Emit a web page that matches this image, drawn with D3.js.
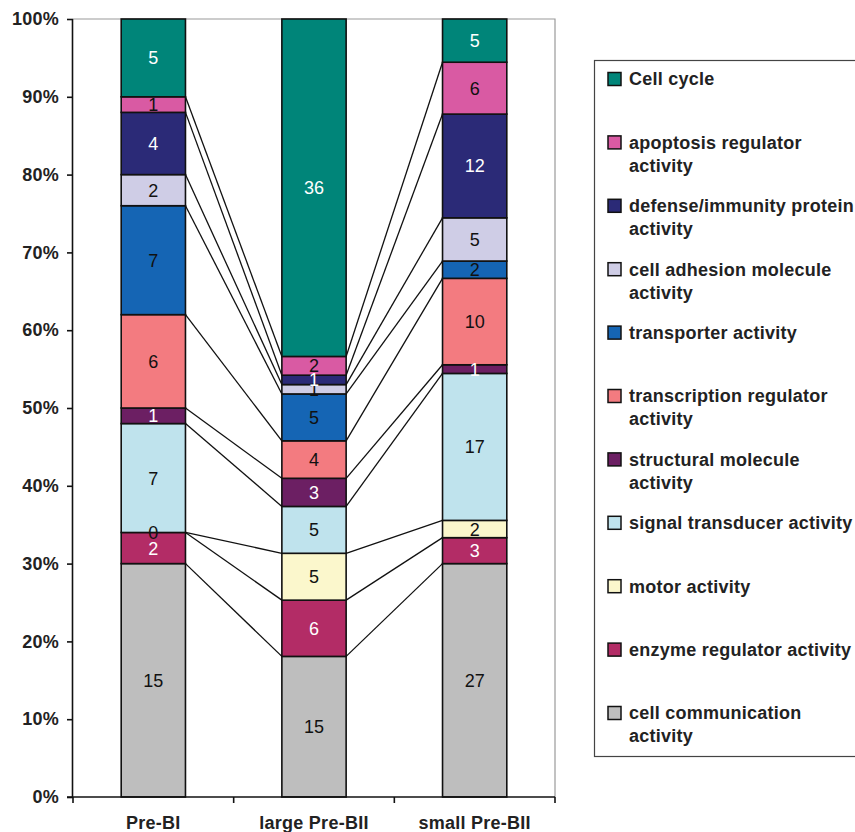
<!DOCTYPE html>
<html><head><meta charset="utf-8">
<script src="https://cdn.jsdelivr.net/npm/d3@7/dist/d3.min.js"></script>
<style>
html,body{margin:0;padding:0;background:#fff;}
svg{display:block;font-family:"Liberation Sans",Arial,sans-serif;}
</style></head>
<body>
<svg id="chart" width="855" height="832"></svg>
<script>
// ---- data ----
const categories = ["Pre-BI", "large Pre-BII", "small Pre-BII"];
const seriesNames = [
  "cell communication activity",
  "enzyme regulator activity",
  "motor activity",
  "signal transducer activity",
  "structural molecule activity",
  "transcription regulator activity",
  "transporter activity",
  "cell adhesion molecule activity",
  "defense/immunity protein activity",
  "apoptosis regulator activity",
  "Cell cycle"
];
const preBI      = [15, 2, 0, 7, 1, 6, 7, 2, 4, 1, 5];
const largePreBII = [15, 6, 5, 5, 3, 4, 5, 1, 1, 2, 36];
const smallPreBII = [27, 3, 2, 17, 1, 10, 2, 5, 12, 6, 5];
const yTickLabels = ["0%","10%","20%","30%","40%","50%","60%","70%","80%","90%","100%"];
// legend lines (top to bottom)
const legendLines = [
  ["Cell cycle"],
  ["apoptosis regulator", "activity"],
  ["defense/immunity protein", "activity"],
  ["cell adhesion molecule", "activity"],
  ["transporter activity"],
  ["transcription regulator", "activity"],
  ["structural molecule", "activity"],
  ["signal transducer activity"],
  ["motor activity"],
  ["enzyme regulator activity"],
  ["cell communication", "activity"]
];
const colors = ["#BEBEBE","#B32C66","#FBF7CC","#BFE3ED","#6C1F63","#F37B80","#1565B4","#CFCDE6","#2B2A77","#D95AA3","#008579"];
const whiteText = [false,true,false,false,true,false,false,false,true,false,true];

const values = [preBI, largePreBII, smallPreBII];

// ---- layout ----
const svg = d3.select("#chart");
const pLeft = 73, pRight = 555, pTop = 19, pBottom = 797;
const FS = 18, LS = "0.25px";

const x = d3.scaleBand().domain(categories).range([pLeft, pRight]).paddingInner(0.6).paddingOuter(0.3);
const y = d3.scaleLinear().domain([0, 1]).range([pBottom, pTop]);

// stacked data (percent)
const stacks = values.map(v => {
  const total = d3.sum(v);
  let acc = 0;
  return v.map((d, i) => { const y0 = acc / total; acc += d; return {i, v: d, y0, y1: acc / total}; });
});

// plot area border (grey)
svg.append("path")
  .attr("d", `M${pLeft},${pTop}H${pRight}V${pBottom}`)
  .attr("fill", "none").attr("stroke", "#9a9a9a").attr("stroke-width", 1.2);

// connector lines
for (let c = 0; c < categories.length - 1; c++) {
  const a = stacks[c], b = stacks[c + 1];
  const xa = x(categories[c]) + x.bandwidth();
  const xb = x(categories[c + 1]);
  for (let i = 0; i < seriesNames.length - 1; i++) {
    svg.append("line")
      .attr("x1", xa).attr("y1", y(a[i].y1))
      .attr("x2", xb).attr("y2", y(b[i].y1))
      .attr("stroke", "#111").attr("stroke-width", 1.3);
  }
}

// bars
categories.forEach((cat, c) => {
  const g = svg.append("g");
  g.selectAll("rect").data(stacks[c]).join("rect")
    .attr("x", x(cat)).attr("width", x.bandwidth())
    .attr("y", d => y(d.y1)).attr("height", d => y(d.y0) - y(d.y1))
    .attr("fill", d => colors[d.i])
    .attr("stroke", "#111").attr("stroke-width", 1.6);
  g.selectAll("text").data(stacks[c]).join("text")
    .attr("x", x(cat) + x.bandwidth() / 2)
    .attr("y", d => (y(d.y0) + y(d.y1)) / 2)
    .attr("dy", "0.36em")
    .attr("text-anchor", "middle")
    .attr("font-size", FS)
    .attr("fill", d => whiteText[d.i] ? "#fff" : "#111")
    .text(d => d.v);
});

// y axis
const yAxis = d3.axisLeft(y).tickValues(d3.range(0, 1.0001, 0.1)).tickSize(6).tickPadding(8)
  .tickFormat((d, i) => yTickLabels[i]);
const ga = svg.append("g").attr("transform", `translate(${pLeft},0)`).call(yAxis);
ga.select(".domain").attr("stroke", "#111").attr("stroke-width", 1.6).attr("d", `M-0.5,${pTop}V${pBottom}`);
ga.selectAll(".tick line").attr("stroke", "#111").attr("stroke-width", 1.6);
ga.selectAll(".tick text").attr("font-size", FS).attr("font-weight", "bold").attr("fill", "#222")
  .attr("letter-spacing", LS)
  .attr("font-family", "'Liberation Sans',Arial,sans-serif");

// x axis
const gx = svg.append("g").attr("transform", `translate(0,${pBottom})`);
gx.append("line").attr("x1", pLeft - 6).attr("x2", pRight).attr("stroke", "#111").attr("stroke-width", 1.6);
const tickXs = [pLeft].concat(categories.map(c => x(c) + x.bandwidth() / 2 + x.step() / 2));
gx.selectAll("line.t").data(tickXs).join("line").attr("class", "t")
  .attr("x1", d => d).attr("x2", d => d).attr("y1", 0).attr("y2", 6)
  .attr("stroke", "#111").attr("stroke-width", 1.6);
gx.selectAll("text").data(categories).join("text")
  .attr("x", d => x(d) + x.bandwidth() / 2).attr("y", 32)
  .attr("text-anchor", "middle").attr("font-size", FS).attr("font-weight", "bold").attr("fill", "#222")
  .attr("letter-spacing", LS)
  .text(d => d);

// legend
const lg = svg.append("g");
lg.append("rect").attr("x", 594.5).attr("y", 60.5).attr("width", 300).attr("height", 696)
  .attr("fill", "#fff").attr("stroke", "#444").attr("stroke-width", 1.2);
const legendOrder = d3.range(seriesNames.length - 1, -1, -1);
legendOrder.forEach((si, k) => {
  const cy = 79 + k * 63.4;
  lg.append("rect").attr("x", 608).attr("y", cy - 6.5).attr("width", 13).attr("height", 13)
    .attr("fill", colors[si]).attr("stroke", "#111").attr("stroke-width", 1.5);
  legendLines[k].forEach((ln, j) => {
    lg.append("text").attr("x", 629).attr("y", cy + j * 23).attr("dy", "0.36em")
      .attr("font-size", FS).attr("font-weight", "bold").attr("fill", "#222")
      .attr("letter-spacing", LS).text(ln);
  });
});
</script>
</body></html>
